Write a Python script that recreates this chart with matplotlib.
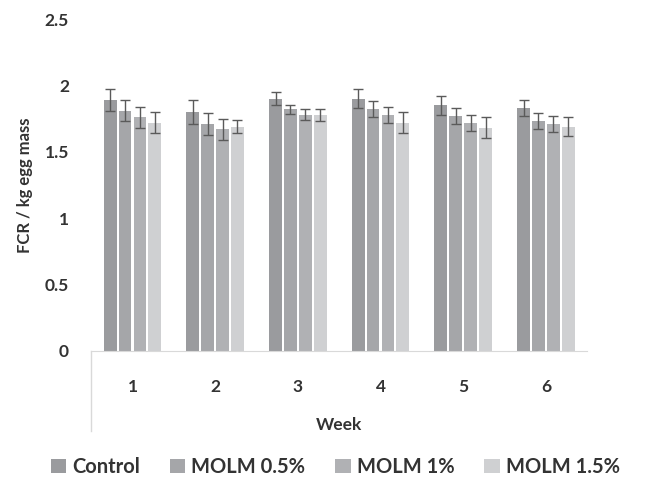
import numpy as np
import matplotlib
matplotlib.use("Agg")
import matplotlib.pyplot as plt

plt.rcParams['font.family'] = ['Lato', 'DejaVu Sans']
plt.rcParams['font.weight'] = 'bold'

weeks = ['1', '2', '3', '4', '5', '6']
groups = ['Control', 'MOLM 0.5%', 'MOLM 1%', 'MOLM 1.5%']

control = [1.89, 1.80, 1.90, 1.90, 1.85, 1.83]
molm_05 = [1.81, 1.71, 1.82, 1.82, 1.77, 1.73]
molm_1 = [1.76, 1.67, 1.78, 1.78, 1.72, 1.71]
molm_15 = [1.72, 1.69, 1.78, 1.72, 1.68, 1.69]

err_control = [0.08, 0.09, 0.05, 0.07, 0.07, 0.06]
err_05 = [0.08, 0.08, 0.035, 0.06, 0.06, 0.06]
err_1 = [0.08, 0.08, 0.04, 0.06, 0.06, 0.06]
err_15 = [0.08, 0.05, 0.045, 0.08, 0.08, 0.07]

colors = ['#9a9b9e', '#a5a6a9', '#b0b1b4', '#cfd0d2']
text_col = '#333333'

fig = plt.figure(figsize=(6.51, 4.88), dpi=100)
ax = fig.add_axes([0.140, 0.281, 0.762, 0.680])

x = np.arange(1, len(weeks) + 1)
step = 0.18
width = 0.155
series = [control, molm_05, molm_1, molm_15]
errs = [err_control, err_05, err_1, err_15]
for i, (vals, e) in enumerate(zip(series, errs)):
    ax.bar(x + (i - 1.5) * step, vals, width, color=colors[i], label=groups[i],
           yerr=e, error_kw=dict(ecolor='#5a5a5a', elinewidth=1, capsize=3.5, capthick=1))

ax.set_xlim(0.5, 6.5)
ax.set_ylim(0, 2.5)
ax.set_yticks([0, 0.5, 1, 1.5, 2, 2.5])
ax.set_yticklabels(['0', '0.5', '1', '1.5', '2', '2.5'])
ax.set_xticks(x)
ax.set_xticklabels(weeks)

for s in ['top', 'right', 'left']:
    ax.spines[s].set_visible(False)
ax.spines['bottom'].set_color('#d9d9d9')
ax.tick_params(axis='both', length=0, labelsize=12.5, colors=text_col)
ax.tick_params(axis='y', pad=16)
ax.tick_params(axis='x', pad=20)

# divider line under the category axis
ax.plot([0.5, 0.5], [0, -0.24], transform=ax.get_xaxis_transform(),
        color='#d9d9d9', lw=1, clip_on=False)

ax.set_xlabel('Week', fontsize=12.5, fontweight='bold', color=text_col, labelpad=16)
ax.set_ylabel('FCR / kg egg mass', fontsize=12, fontweight='bold', color=text_col, labelpad=8)

fig.legend(loc='center', bbox_to_anchor=(0.515, 0.043), ncol=4, frameon=False,
           fontsize=14.5, handlelength=0.75, handleheight=0.75, handletextpad=0.3,
           columnspacing=1.5, labelcolor=text_col)

fig.savefig('out.png', dpi=100)
